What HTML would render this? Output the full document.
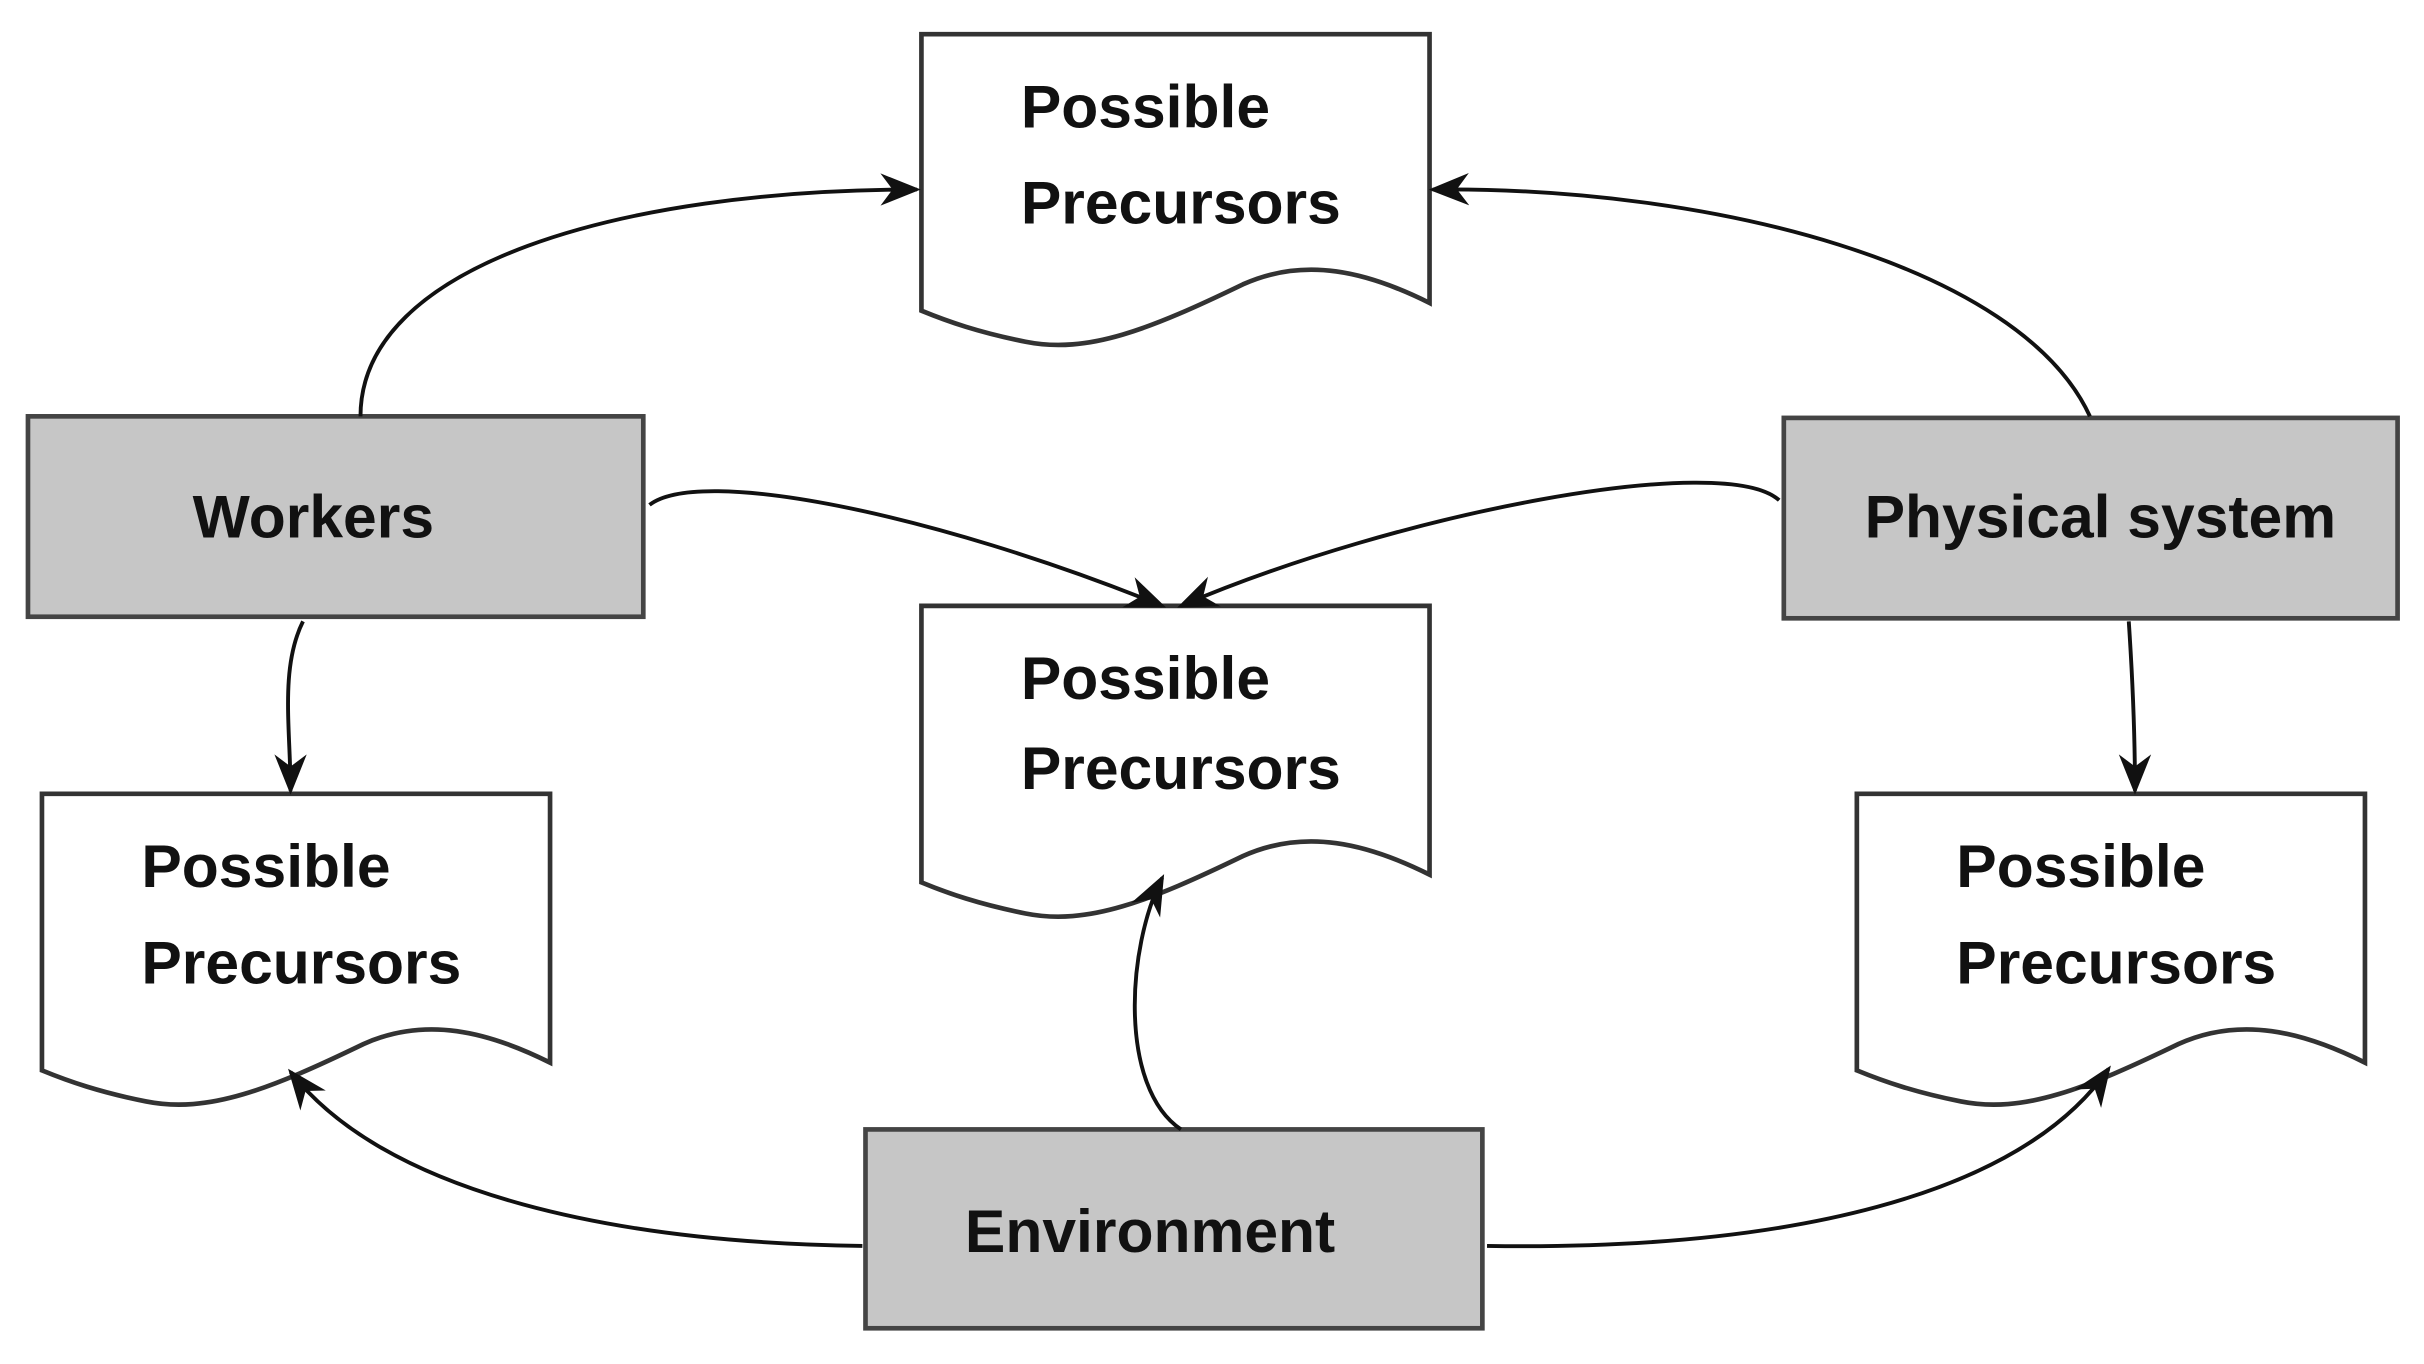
<!DOCTYPE html>
<html><head><meta charset="utf-8"><style>
html,body{margin:0;padding:0;background:#fff;}
svg{display:block;}
text{font-family:"Liberation Sans",sans-serif;font-weight:bold;font-size:39px;fill:#111;}
</style></head><body>
<svg width="2424" height="1364" viewBox="0 0 1560 878" preserveAspectRatio="none" xmlns="http://www.w3.org/2000/svg">
<defs>
<marker id="a" viewBox="0 0 10 10" refX="9" refY="5" markerWidth="9" markerHeight="9" markerUnits="userSpaceOnUse" orient="auto">
<path d="M0,0 L10,5 L0,10 L3,5 Z" fill="#111" transform="scale(1)"/>
</marker>
<marker id="b" viewBox="0 0 10 10" refX="9" refY="5" markerWidth="26" markerHeight="26" markerUnits="userSpaceOnUse" orient="auto">
<path d="M0,1 L10,5 L0,9 L3,5 Z" fill="#111"/>
</marker>
</defs>
<g fill="#fff" stroke="#333" stroke-width="3">
<path d="M593,22 H920 V195 C880,175 840,165 800,183 C740,212 700,228 660,220 C630,214 610,207 593,200 Z"/>
<path d="M593,390 H920 V563 C880,543 840,533 800,551 C740,580 700,596 660,588 C630,582 610,575 593,568 Z"/>
<path d="M27,511 H354 V684 C314,664 274,654 234,672 C174,701 134,717 94,709 C64,703 44,696 27,689 Z"/>
<path d="M1195,511 H1522 V684 C1482,664 1442,654 1402,672 C1342,701 1302,717 1262,709 C1232,703 1212,696 1195,689 Z"/>
</g>
<g fill="#c6c6c6" stroke="#444" stroke-width="3">
<rect x="18" y="268" width="396" height="129"/>
<rect x="1148" y="269" width="395" height="129"/>
<rect x="557" y="727" width="397" height="128"/>
</g>
<g fill="none" stroke="#111" stroke-width="2.5" marker-end="url(#b)">
<path d="M232,268 C232,170 400,122 590,122"/>
<path d="M1345,268 C1300,170 1100,120 922,122"/>
<path d="M418,325 C450,300 600,330 748,390"/>
<path d="M1145,322 C1110,290 900,330 760,390"/>
<path d="M195,400 C180,430 187,470 187,509"/>
<path d="M1370,400 C1372,430 1374,470 1374,509"/>
<path d="M760,727 C720,700 725,610 748,565"/>
<path d="M555,802 C400,800 250,770 187,690"/>
<path d="M957,802 C1150,805 1300,770 1357,688"/>
</g>
<text x="657" y="82">Possible</text>
<text x="657" y="144">Precursors</text>
<text x="657" y="450">Possible</text>
<text x="657" y="508">Precursors</text>
<text x="91" y="571">Possible</text>
<text x="91" y="633">Precursors</text>
<text x="1259" y="571">Possible</text>
<text x="1259" y="633">Precursors</text>
<text x="124" y="346">Workers</text>
<text x="1200" y="346">Physical system</text>
<text x="621" y="806">Environment</text>
</svg>
</body></html>
